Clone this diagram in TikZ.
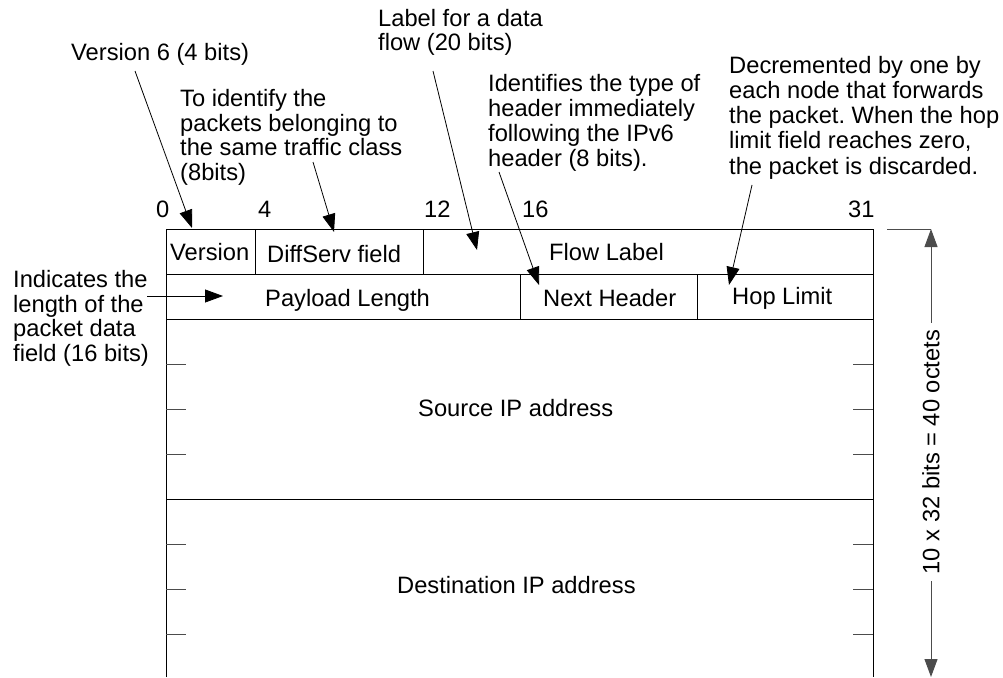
\documentclass[tikz,border=0pt]{standalone}
\usepackage{fontspec}
\setmainfont{Liberation Sans}
\usetikzlibrary{arrows.meta}
\frenchspacing

\tikzset{
  txt/.style={inner sep=0pt, anchor=base west, align=left,
    font=\fontsize{23.7}{24.4}\selectfont},
  frame/.style={line width=1pt, black},
  tick/.style={line width=1pt, black!70},
  callout/.style={line width=0.8pt, -{Triangle[length=18pt,width=13pt]}},
  dimline/.style={line width=1pt, black!70, -{Triangle[length=18pt,width=13pt]}},
}

\begin{document}
\begin{tikzpicture}[x=1pt, y=-1pt]
\useasboundingbox (0,0) rectangle (1003,677);

% ---- header frame (10 rows of 32 bits, 45 units each) ----
\draw[frame] (166,677) -- (166,229) -- (873,229) -- (873,677);
\foreach \yy in {274,319,499} \draw[frame] (166,\yy) -- (873,\yy);
\draw[frame] (255,229) -- (255,274);
\draw[frame] (423,229) -- (423,274);
\draw[frame] (520,274) -- (520,319);
\draw[frame] (697,274) -- (697,319);

% 32-bit word ticks inside the address fields
\foreach \yy in {364,409,454,544,589,634} {
  \draw[tick] (166,\yy) -- (186,\yy);
  \draw[tick] (853,\yy) -- (873,\yy);
}

% ---- bit positions ----
\node[txt] (b0)  at (156,217) {0};
\node[txt] (b4)  at (258,217) {4};
\node[txt] (b12) at (424,217) {12};
\node[txt] (b16) at (522,217) {16};
\node[txt] (b31) at (848,217) {31};

% ---- field names ----
\node[txt] (ver)  at (170,260) {Version};
\node[txt] (ds)   at (267,262) {DiffServ field};
\node[txt] (fl)   at (549,260) {Flow Label};
\node[txt] (pl)   at (265,306) {Payload Length};
\node[txt] (nh)   at (543,306) {Next Header};
\node[txt] (hl)   at (732,304) {Hop Limit};
\node[txt] (src)  at (418,416) {Source IP address};
\node[txt] (dst)  at (397,593) {Destination IP address};

% ---- explanations (placed by the baseline of their last line) ----
\node[txt] (nver) at (71,60) {Version 6 (4 bits)};
\node[txt] (nds)  at (180,180) {To identify the\\packets belonging to\\the same traffic class\\(8bits)};
\node[txt] (nfl)  at (378,51) {Label for a data\\flow (20 bits)};
\node[txt, font=\fontsize{23.7}{25}\selectfont] (nnh) at (488,166)
  {Identifies the type of\\header immediately\\following the IPv6\\header (8 bits).};
\node[txt, font=\fontsize{23.7}{25.2}\selectfont] (nhl) at (729,174)
  {Decremented by one by\\each node that forwards\\the packet. When the hop\\limit field reaches zero,\\the packet is discarded.};
\node[txt] (npl)  at (13,361) {Indicates the\\length of the\\packet data\\field (16 bits)};

% callout lines: start near each explanation, tip on its field
\coordinate (sver) at (135,71);   \coordinate (tver) at (192,228);
\coordinate (sds)  at (313,162);  \coordinate (tds)  at (334,232);
\coordinate (sfl)  at (433,71);   \coordinate (tfl)  at (477,250);
\coordinate (snh)  at (499,172);  \coordinate (tnh)  at (539,285);
\coordinate (shl)  at (752,185);  \coordinate (thl)  at (729,285);
\coordinate (spl)  at (147,296);  \coordinate (tpl)  at (223,296);

\draw[callout] (sver) -- (tver);
\draw[callout] (sds)  -- (tds);
\draw[callout] (sfl)  -- (tfl);
\draw[callout] (snh)  -- (tnh);
\draw[callout] (shl)  -- (thl);
\draw[callout] (spl)  -- (tpl);

% ---- overall header size ----
\coordinate (dimref) at (887,229);
\coordinate (dimtop) at (931,229);
\coordinate (dimbot) at (931,677);
\draw[tick] (dimref) -- (dimtop);
\node[txt, anchor=center, rotate=90, inner xsep=7pt] (dim) at (931,452)
  {10 x 32 bits = 40 octets};
\draw[dimline] (dim.east) -- (dimtop);
\draw[dimline] (dim.west) -- (dimbot);
\end{tikzpicture}
\end{document}
